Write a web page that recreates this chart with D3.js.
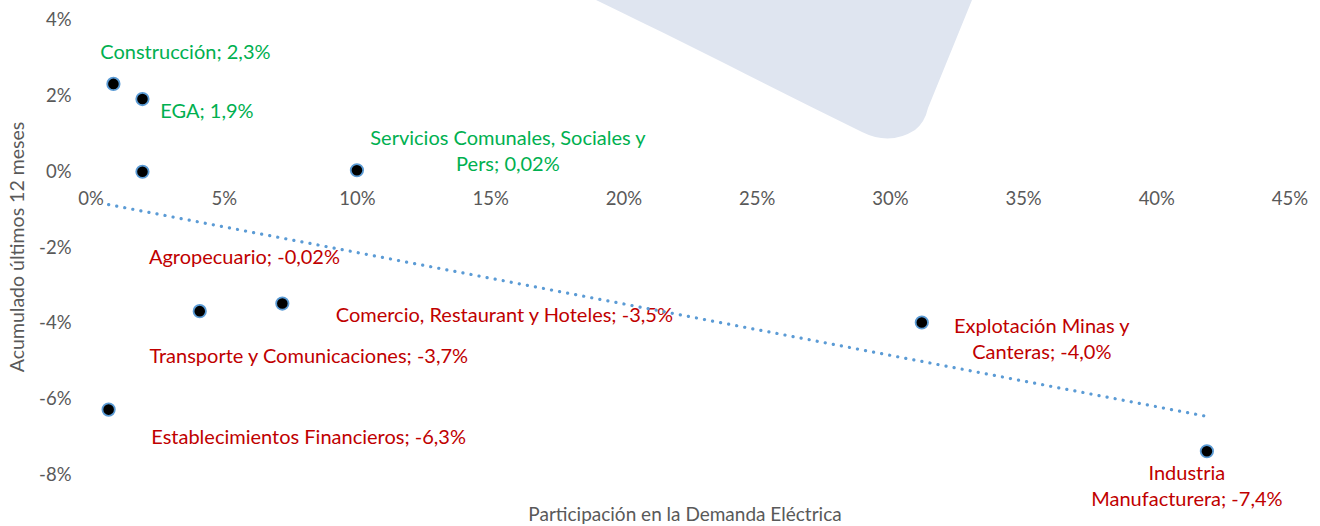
<!DOCTYPE html>
<html><head><meta charset="utf-8">
<script src="https://cdn.jsdelivr.net/npm/d3@7"></script>
<style>
html,body{margin:0;padding:0;background:#fff;}
svg{display:block;font-family:Lato,"Open Sans",sans-serif;}
</style></head>
<body>
<svg id="chart" width="1320" height="526"></svg>
<script>
// ---- data ----
const sectors = ["Construcción","EGA","Agropecuario","Servicios Comunales, Sociales y Pers","Transporte y Comunicaciones","Comercio, Restaurant y Hoteles","Explotación Minas y Canteras","Industria Manufacturera","Establecimientos Financieros"];
const participation = [0.0086, 0.0195, 0.0195, 0.100, 0.041, 0.072, 0.312, 0.419, 0.0068];
const accumulated = [0.023, 0.019, -0.0002, 0.0002, -0.037, -0.035, -0.040, -0.074, -0.063];
const labelLines = [
  ["Construcción; 2,3%"],
  ["EGA; 1,9%"],
  ["Agropecuario; -0,02%"],
  ["Servicios Comunales, Sociales y","Pers; 0,02%"],
  ["Transporte y Comunicaciones; -3,7%"],
  ["Comercio, Restaurant y Hoteles; -3,5%"],
  ["Explotación Minas y","Canteras; -4,0%"],
  ["Industria","Manufacturera; -7,4%"],
  ["Establecimientos Financieros; -6,3%"]
];
const xTicks = [0,0.05,0.10,0.15,0.20,0.25,0.30,0.35,0.40,0.45];
const yTicks = [0.04,0.02,0,-0.02,-0.04,-0.06,-0.08];
const xTitle = "Participación en la Demanda Eléctrica";
const yTitle = "Acumulado últimos 12 meses";

// ---- layout (label block centre offsets in px from its point) ----
const labelOffsets = [[72,-32],[64.5,12],[102,85],[151,-19],[109,45],[222,11],[120,16.5],[-20,35],[200,27]];

const svg = d3.select("#chart");
const x = d3.scaleLinear().domain([0,0.45]).range([90.5,1289.5]);
const y = d3.scaleLinear().domain([-0.08,0.04]).range([474,19.5]);
const pctRaw = d3.format(".0%");
const pct = v => pctRaw(v).replace("\u2212","-");
const green = "#00B050", red = "#C00000", grey = "#595959";

// watermark shape
svg.append("path")
  .attr("d","M596,0 C700,50 780,92 862,132 Q890,146 915,130 Q925,122 928,108 L972,0 Z")
  .attr("fill","#DFE5F0");

// axes (no lines)
const xa = svg.append("g").attr("transform",`translate(0,${y(0)})`)
  .call(d3.axisBottom(x).tickValues(xTicks).tickFormat(pct).tickSize(0).tickPadding(21));
const ya = svg.append("g").attr("transform",`translate(${x(0)-19},0)`)
  .call(d3.axisLeft(y).tickValues(yTicks).tickFormat(pct).tickSize(0).tickPadding(0));
[xa,ya].forEach(g=>{
  g.select(".domain").remove();
  g.selectAll("text").attr("fill",grey).style("font-size","18.5px").style("font-family","Lato, 'Open Sans', sans-serif");
});
ya.selectAll("text").attr("dy","0.35em");

// titles
svg.append("text").attr("x",685).attr("y",521).attr("text-anchor","middle")
  .attr("fill",grey).style("font-size","19px").text(xTitle);
svg.append("text").attr("transform","translate(24,247) rotate(-90)").attr("text-anchor","middle")
  .attr("fill",grey).style("font-size","19.5px").text(yTitle);

// labels
const data = sectors.map((s,i)=>({s, px:participation[i], py:accumulated[i], lines:labelLines[i], off:labelOffsets[i]}));
const lg = svg.append("g");
data.forEach(d=>{
  const cx = x(d.px)+d.off[0], cy = y(d.py)+d.off[1];
  const lh = 26;
  const t = lg.append("text").attr("text-anchor","middle")
    .attr("fill", d.py>0 ? green : red)
    .style("font-size","20px");
  d.lines.forEach((ln,k)=>{
    t.append("tspan").attr("x",cx).attr("y", cy + (k-(d.lines.length-1)/2)*lh).attr("dy","0.35em").text(ln);
  });
});

// trend line (least squares)
const n = participation.length;
const mx = d3.mean(participation), my = d3.mean(accumulated);
let sxy=0,sxx=0;
for(let i=0;i<n;i++){sxy+=(participation[i]-mx)*(accumulated[i]-my);sxx+=(participation[i]-mx)**2;}
const slope=sxy/sxx, icpt=my-slope*mx;
const [x0,x1]=d3.extent(participation);
svg.append("line")
  .attr("x1",x(x0)).attr("y1",y(icpt+slope*x0))
  .attr("x2",x(x1)).attr("y2",y(icpt+slope*x1))
  .attr("stroke","#5B9BD5").attr("stroke-width",3.2)
  .attr("stroke-linecap","round").attr("stroke-dasharray","0.1 8.1");

// points
svg.append("g").selectAll("circle").data(data).join("circle")
  .attr("cx",d=>x(d.px)).attr("cy",d=>y(d.py)).attr("r",6.2)
  .attr("fill","#000").attr("stroke","#5B9BD5").attr("stroke-width",1.8);
</script>
</body></html>
